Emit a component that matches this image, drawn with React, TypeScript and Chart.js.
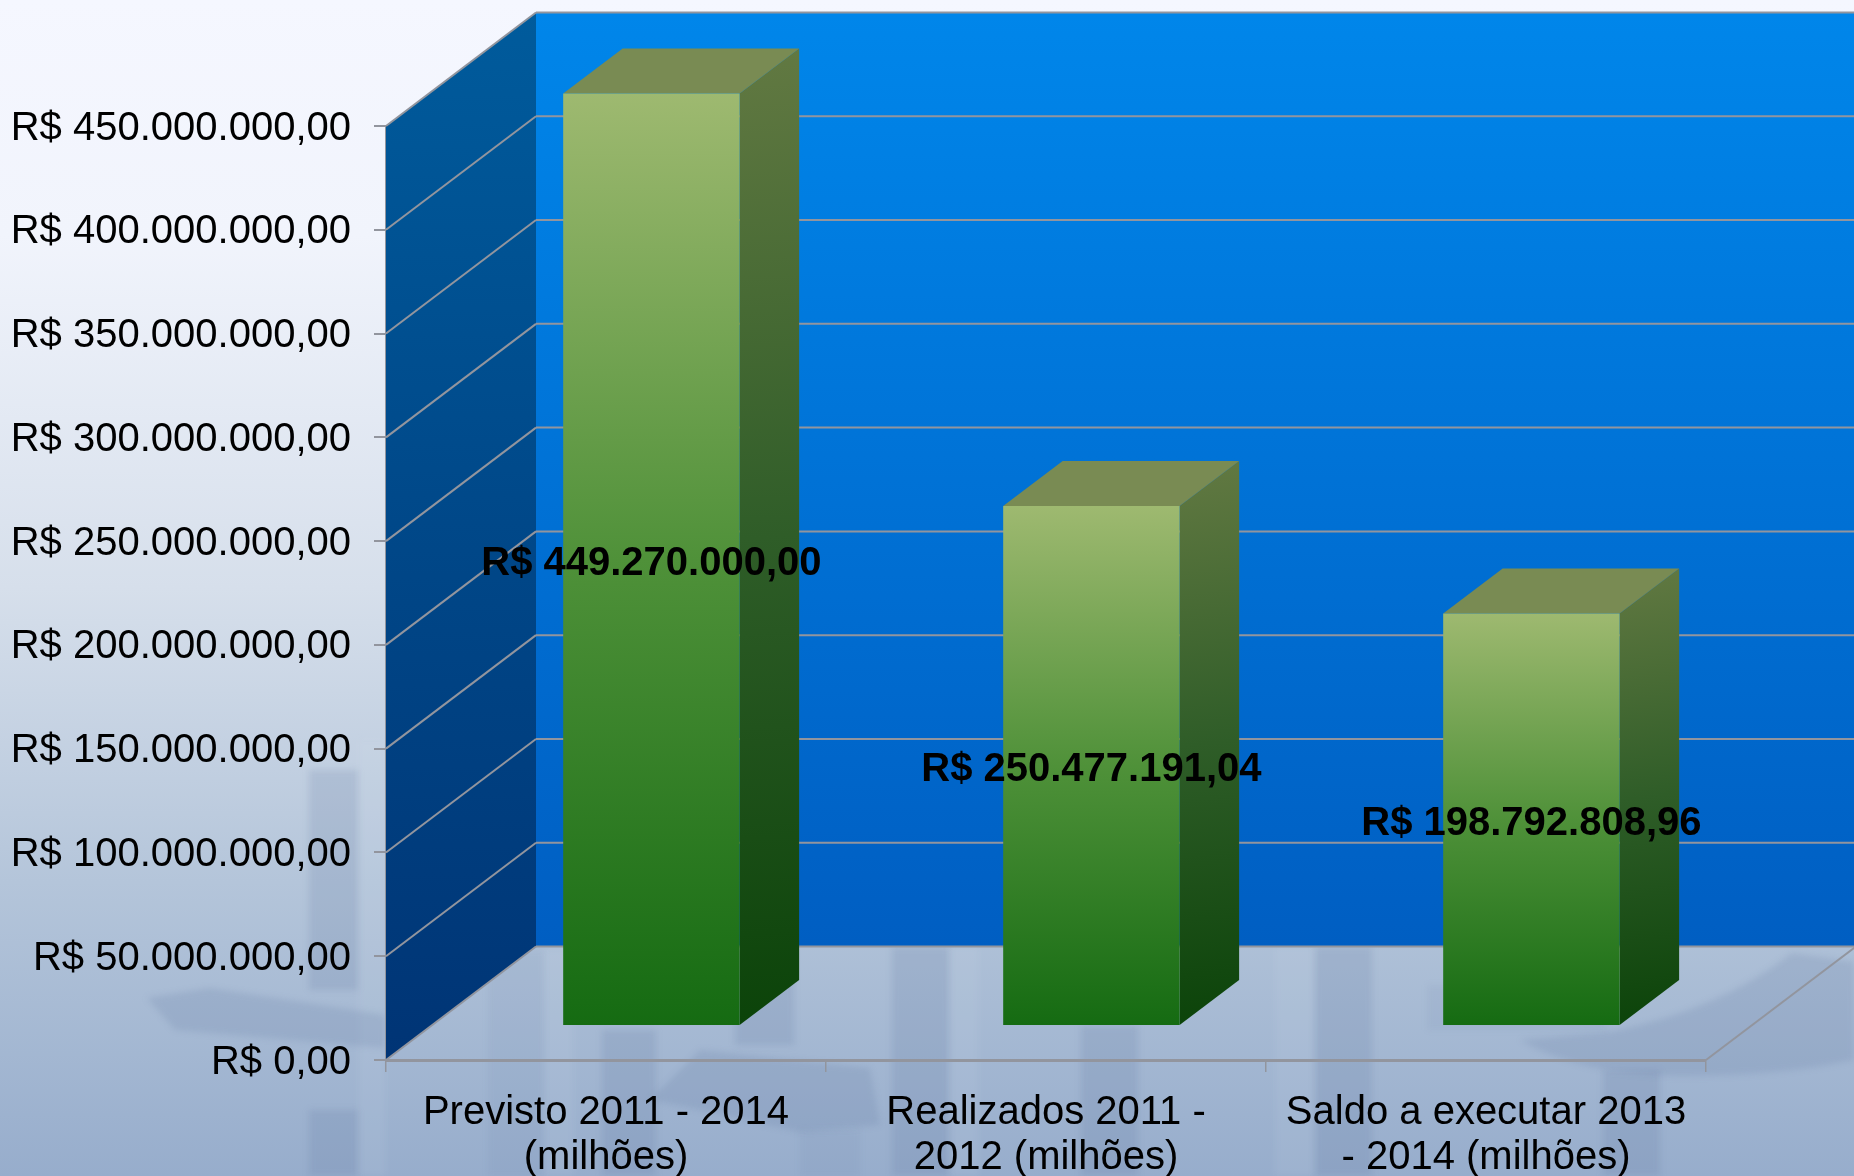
import React, { useEffect, useRef } from "react";
import { Chart, registerables } from "chart.js";

Chart.register(...registerables);

const categories = [
  ["Previsto 2011 - 2014", "(milhões)"],
  ["Realizados 2011 -", "2012 (milhões)"],
  ["Saldo a executar 2013", "- 2014 (milhões)"],
];
const values = [449270000.0, 250477191.04, 198792808.96];
const axisMax = 450000000;
const axisStep = 50000000;

const FONT = '"Liberation Sans", Arial, sans-serif';
const GRID = "#92959e";
const WALL_DX = 150;
const WALL_DY = 113.5;
const BAR_DX = 45.4;
const BAR_DY = 34;
const BAR_DEPTH_X = 59.5;
const BAR_DEPTH_Y = 45;

function brl(v: number): string {
  const [i, d] = v.toFixed(2).split(".");
  return "R$ " + i.replace(/\B(?=(\d{3})+(?!\d))/g, ".") + "," + d;
}

function poly(ctx: CanvasRenderingContext2D, pts: number[][], fill: any) {
  ctx.fillStyle = fill;
  ctx.beginPath();
  pts.forEach((p, i) => (i ? ctx.lineTo(p[0], p[1]) : ctx.moveTo(p[0], p[1])));
  ctx.closePath();
  ctx.fill();
}

function line(ctx: CanvasRenderingContext2D, x0: number, y0: number, x1: number, y1: number, w = 2) {
  ctx.strokeStyle = GRID;
  ctx.lineWidth = w;
  ctx.beginPath();
  ctx.moveTo(x0, y0);
  ctx.lineTo(x1, y1);
  ctx.stroke();
}

const backdrop = {
  id: "backdrop",
  beforeDraw(chart: any) {
    const { ctx, width, height } = chart;
    ctx.save();
    const g = ctx.createLinearGradient(0, 0, 0, height);
    g.addColorStop(0, "#f5f7ff");
    g.addColorStop(0.2, "#f1f4fc");
    g.addColorStop(0.5, "#d6dfeb");
    g.addColorStop(0.75, "#b4c5da");
    g.addColorStop(1, "#97adcc");
    ctx.fillStyle = g;
    ctx.fillRect(0, 0, width, height);

    ctx.filter = "blur(3px)";
    const mark = "rgba(88,112,155,0.17)";
    const faint = "rgba(88,112,155,0.07)";
    const light = "rgba(225,232,245,0.09)";
    ctx.fillStyle = mark;
    [
      [309, 770, 49, 220],
      [309, 1110, 49, 66],
      [602, 1030, 54, 146],
      [735, 950, 59, 95],
      [892, 947, 57, 229],
      [1081, 1026, 57, 150],
      [1315, 947, 57, 229],
      [1603, 1070, 57, 106],
    ].forEach((c) => ctx.fillRect(c[0], c[1], c[2], c[3]));
    ctx.fillStyle = faint;
    [[488, 950, 56, 226], [800, 1130, 60, 46]].forEach((c) => ctx.fillRect(c[0], c[1], c[2], c[3]));
    ctx.fillStyle = light;
    [[358, 740, 28, 436], [544, 950, 30, 226], [949, 947, 30, 229], [1275, 947, 40, 229]].forEach((c) =>
      ctx.fillRect(c[0], c[1], c[2], c[3])
    );
    poly(ctx, [[147, 998], [210, 988], [385, 1015], [385, 1048], [175, 1030]], mark);
    poly(ctx, [[650, 1100], [700, 1050], [870, 1068], [880, 1125], [800, 1132], [700, 1110]], mark);

    ctx.fillStyle = mark;
    ctx.beginPath();
    ctx.moveTo(1792, 953);
    ctx.quadraticCurveTo(1720, 1010, 1610, 1032);
    ctx.lineTo(1520, 1040);
    ctx.quadraticCurveTo(1580, 1075, 1680, 1076);
    ctx.quadraticCurveTo(1780, 1076, 1854, 1060);
    ctx.lineTo(1854, 962);
    ctx.closePath();
    ctx.fill();
    ctx.fillStyle = faint;
    ctx.fillRect(1427, 985, 180, 45);
    ctx.restore();
  },
};

const walls = {
  id: "walls",
  beforeDatasetsDraw(chart: any) {
    const { ctx, width } = chart;
    const { x, y } = chart.scales;
    const l = x.left;
    const r = x.right;
    const t = y.getPixelForValue(axisMax);
    const b = y.getPixelForValue(0);
    ctx.save();

    const back = ctx.createLinearGradient(0, t - WALL_DY, 0, b - WALL_DY);
    back.addColorStop(0, "#0086ea");
    back.addColorStop(1, "#005ec2");
    ctx.fillStyle = back;
    ctx.fillRect(l + WALL_DX, t - WALL_DY, width - l - WALL_DX, b - t);

    const side = ctx.createLinearGradient(0, t - WALL_DY, 0, b);
    side.addColorStop(0, "#005b9c");
    side.addColorStop(1, "#003475");
    poly(ctx, [[l, t], [l + WALL_DX, t - WALL_DY], [l + WALL_DX, b - WALL_DY], [l, b]], side);

    y.ticks.forEach((tick: any) => {
      const py = y.getPixelForValue(tick.value);
      line(ctx, l, py, l + WALL_DX, py - WALL_DY, 2);
      line(ctx, l + WALL_DX, py - WALL_DY, width, py - WALL_DY, 2);
    });
    line(ctx, r, b, r + WALL_DX, b - WALL_DY, 2);
    ctx.restore();
  },
};

const solidBars = {
  id: "solidBars",
  beforeDatasetDraw(chart: any) {
    const { ctx } = chart;
    ctx.save();
    ctx.translate(BAR_DX, -BAR_DY);
    chart.getDatasetMeta(0).data.forEach((bar: any) => {
      const { x, y, base, width } = bar.getProps(["x", "y", "base", "width"], true);
      const right = x + width / 2;
      const left = x - width / 2;
      const grad = ctx.createLinearGradient(right, y - BAR_DEPTH_Y, right + BAR_DEPTH_X, base);
      grad.addColorStop(0, "#627942");
      grad.addColorStop(0.5, "#2f5d28");
      grad.addColorStop(1, "#0b4309");
      poly(ctx, [[right, y], [right + BAR_DEPTH_X, y - BAR_DEPTH_Y], [right + BAR_DEPTH_X, base - BAR_DEPTH_Y], [right, base]], grad);
      poly(ctx, [[left, y], [left + BAR_DEPTH_X, y - BAR_DEPTH_Y], [right + BAR_DEPTH_X, y - BAR_DEPTH_Y], [right, y]], "#798b53");
    });
  },
  afterDatasetDraw(chart: any) {
    const { ctx } = chart;
    ctx.restore();
    ctx.save();
    ctx.font = `bold 40px ${FONT}`;
    ctx.fillStyle = "#000";
    ctx.textAlign = "center";
    ctx.textBaseline = "middle";
    chart.getDatasetMeta(0).data.forEach((bar: any, i: number) => {
      const { x, y, base } = bar.getProps(["x", "y", "base"], true);
      ctx.fillText(brl(values[i]), x + BAR_DX, (y + base) / 2 - BAR_DY + 4.5);
    });
    ctx.restore();
  },
};

export default function App() {
  const ref = useRef<HTMLCanvasElement>(null);
  useEffect(() => {
    document.body.style.margin = "0";
    const chart = new Chart(ref.current!, {
      type: "bar",
      data: {
        labels: categories as any,
        datasets: [
          {
            data: values,
            barPercentage: 0.401,
            categoryPercentage: 1,
            borderWidth: 0,
            clip: false as any,
            backgroundColor: (c: any) => {
              const s = c.chart.scales.y;
              if (!s || c.dataIndex === undefined) return "#4f9139";
              const top = s.getPixelForValue(values[c.dataIndex]);
              const base = s.getPixelForValue(0);
              if (!Number.isFinite(top) || !Number.isFinite(base)) return "#4f9139";
              const g = c.chart.ctx.createLinearGradient(0, top, 0, base);
              g.addColorStop(0, "#9eb970");
              g.addColorStop(0.5, "#4f9139");
              g.addColorStop(1, "#156b12");
              return g;
            },
          },
        ],
      },
      options: {
        responsive: false,
        animation: false,
        layout: { autoPadding: false, padding: { left: 0, top: 126, right: 148, bottom: 0 } },
        plugins: { legend: { display: false }, tooltip: { enabled: false } },
        scales: {
          x: {
            offset: true,
            afterFit: (s: any) => {
              s.height = 116;
            },
            grid: { drawOnChartArea: false, color: GRID, lineWidth: 1.5, tickLength: 12, offset: true },
            border: { color: GRID, width: 3 },
            ticks: {
              color: "#000",
              font: { family: FONT, size: 40, lineHeight: 1.13 },
              autoSkip: false,
              maxRotation: 0,
              padding: 18,
            },
          },
          y: {
            min: 0,
            max: axisMax,
            afterFit: (s: any) => {
              s.width = 386;
            },
            grid: { drawOnChartArea: false, color: GRID, lineWidth: 2, tickLength: 12 },
            border: { color: GRID, width: 2 },
            ticks: {
              stepSize: axisStep,
              color: "#000",
              font: { family: FONT, size: 40 },
              padding: 23,
              labelOffset: 2.5,
              callback: (v: any) => brl(Number(v)),
            },
          },
        },
      },
      plugins: [backdrop, walls, solidBars],
    } as any);
    return () => chart.destroy();
  }, []);
  return <canvas ref={ref} width={1854} height={1176} style={{ display: "block" }} />;
}
